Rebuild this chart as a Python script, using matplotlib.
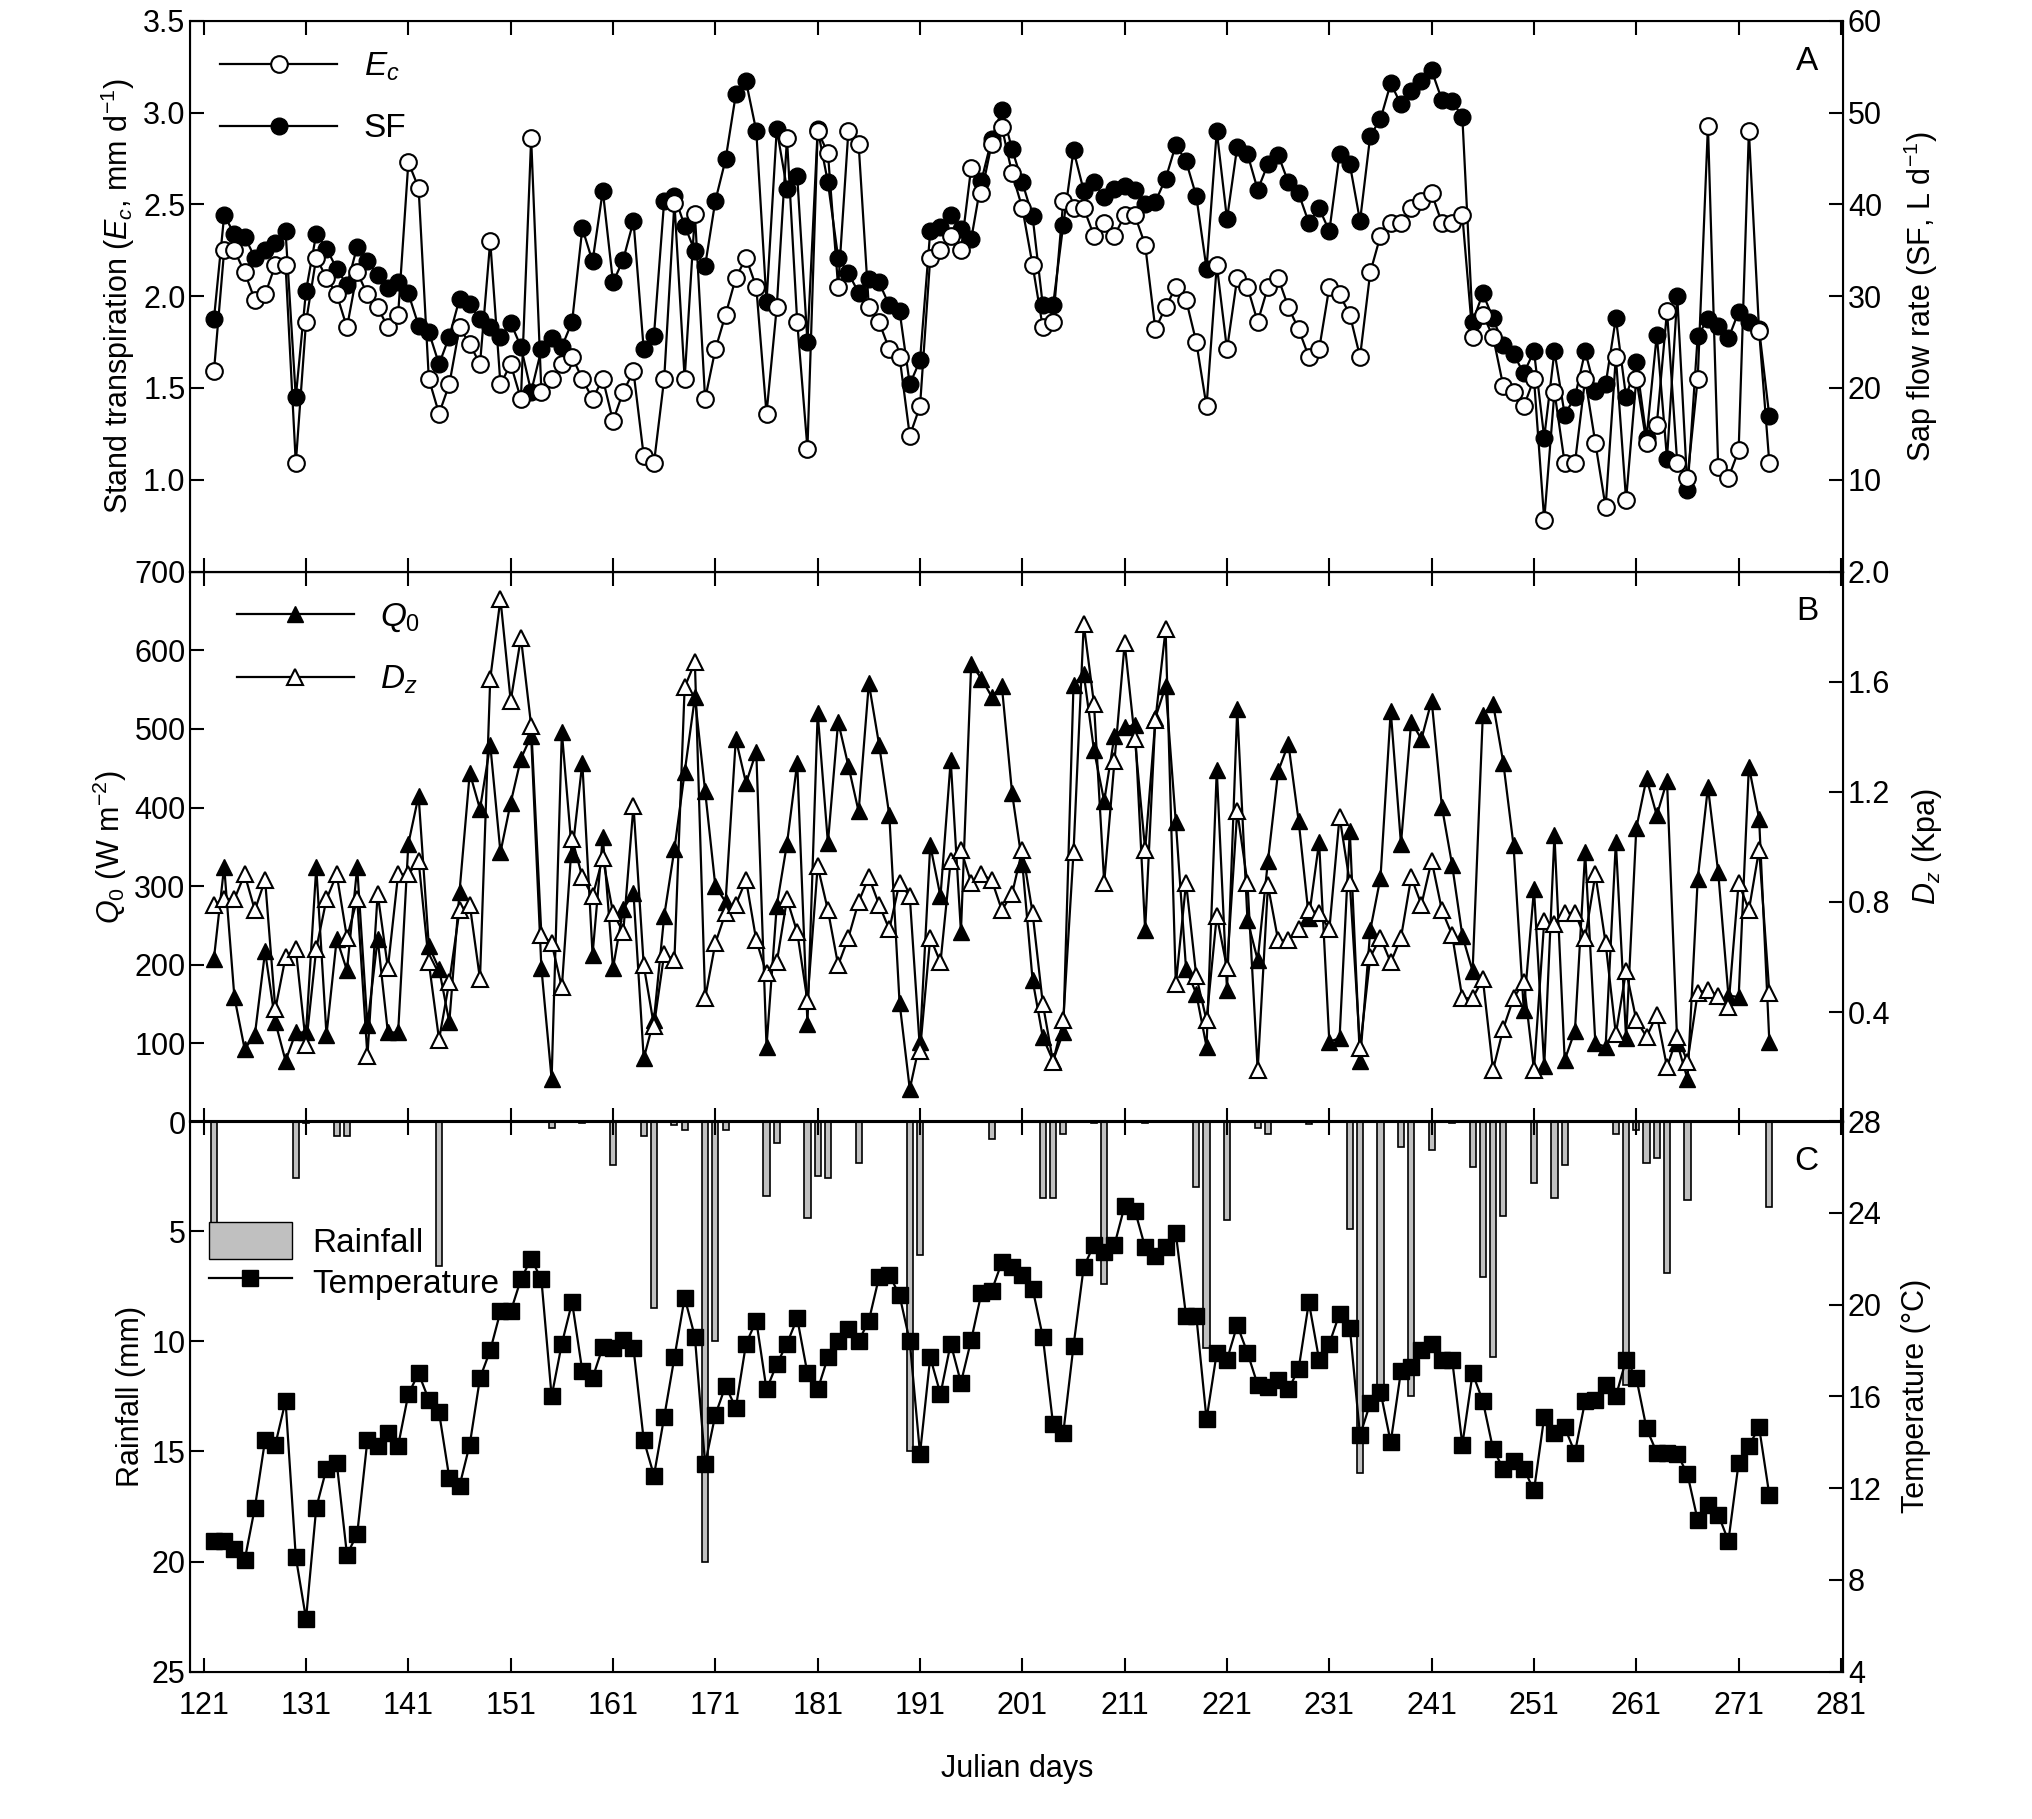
import matplotlib
matplotlib.use('Agg')
import matplotlib.pyplot as plt
import numpy as np
from matplotlib.patches import Patch
from matplotlib.lines import Line2D

plt.rcParams['font.family'] = ['Liberation Sans Narrow', 'Liberation Sans', 'DejaVu Sans']
plt.rcParams['mathtext.fontset'] = 'custom'
plt.rcParams['mathtext.rm'] = 'Liberation Sans'
plt.rcParams['mathtext.it'] = 'Liberation Sans:italic'
plt.rcParams['mathtext.bf'] = 'Liberation Sans:bold'

days = np.arange(122, 275)

# Stand transpiration (mm/d)
ec = [1.59, 2.25, 2.25, 2.13, 1.98, 2.01, 2.17, 2.17, 1.09, 1.86,
      2.21, 2.10, 2.01, 1.83, 2.13, 2.01, 1.94, 1.83, 1.90, 2.73,
      2.59, 1.55, 1.36, 1.52, 1.83, 1.74, 1.63, 2.30, 1.52, 1.63,
      1.44, 2.86, 1.48, 1.55, 1.63, 1.67, 1.55, 1.44, 1.55, 1.32,
      1.48, 1.59, 1.13, 1.09, 1.55, 2.51, 1.55, 2.45, 1.44, 1.71,
      1.90, 2.10, 2.21, 2.05, 1.36, 1.94, 2.86, 1.86, 1.17, 2.90,
      2.78, 2.05, 2.90, 2.83, 1.94, 1.86, 1.71, 1.67, 1.24, 1.40,
      2.21, 2.25, 2.33, 2.25, 2.70, 2.56, 2.83, 2.92, 2.67, 2.48,
      2.17, 1.83, 1.86, 2.52, 2.48, 2.48, 2.33, 2.40, 2.33, 2.44,
      2.44, 2.28, 1.82, 1.94, 2.05, 1.98, 1.75, 1.40, 2.17, 1.71,
      2.10, 2.05, 1.86, 2.05, 2.10, 1.94, 1.82, 1.67, 1.71, 2.05,
      2.01, 1.90, 1.67, 2.13, 2.33, 2.40, 2.40, 2.48, 2.52, 2.56,
      2.40, 2.40, 2.44, 1.78, 1.90, 1.78, 1.51, 1.48, 1.40, 1.55,
      0.78, 1.48, 1.09, 1.09, 1.55, 1.20, 0.85, 1.67, 0.89, 1.55,
      1.20, 1.30, 1.92, 1.09, 1.01, 1.55, 2.93, 1.07, 1.01, 1.16,
      2.90, 1.81, 1.09]

# Sap flow rate (L/d)
sf = [27.5, 38.8, 36.8, 36.5, 34.2, 35.0, 35.8, 37.1, 19.0, 30.6,
      36.8, 35.2, 33.0, 31.2, 35.4, 33.8, 32.3, 30.9, 31.5, 30.3,
      26.8, 26.1, 22.6, 25.6, 29.7, 29.1, 27.5, 26.7, 25.6, 27.1,
      24.5, 19.6, 24.2, 25.4, 24.5, 27.2, 37.4, 33.8, 41.5, 31.5,
      34.0, 38.2, 24.2, 25.7, 40.4, 40.9, 37.7, 34.9, 33.3, 40.4,
      44.9, 52.0, 53.4, 48.0, 29.4, 48.2, 41.7, 43.1, 25.0, 48.2,
      42.4, 34.2, 32.5, 30.4, 31.9, 31.5, 29.0, 28.4, 20.4, 23.0,
      37.1, 37.5, 38.8, 37.3, 36.2, 42.6, 47.1, 50.3, 46.0, 42.4,
      38.7, 29.0, 29.0, 37.8, 45.9, 41.5, 42.4, 40.8, 41.7, 42.0,
      41.6, 40.1, 40.3, 42.8, 46.5, 44.7, 40.9, 33.0, 48.0, 38.4,
      46.3, 45.5, 41.6, 44.4, 45.4, 42.4, 41.2, 38.0, 39.6, 37.1,
      45.5, 44.4, 38.2, 47.5, 49.3, 53.2, 50.9, 52.4, 53.4, 54.6,
      51.4, 51.3, 49.5, 27.2, 30.3, 27.6, 24.7, 23.7, 21.6, 24.0,
      14.6, 24.0, 17.1, 19.0, 24.0, 19.7, 20.4, 27.6, 19.0, 22.8,
      14.6, 25.8, 12.3, 30.0, 8.9, 25.7, 27.5, 26.8, 25.4, 28.3,
      27.2, 26.4, 16.9]

# Solar radiation Q0 (W/m2)
q0 = [208, 325, 159, 93, 111, 217, 127, 78, 114, 114,
      324, 111, 233, 193, 324, 123, 233, 114, 114, 354,
      415, 224, 195, 127, 293, 444, 398, 480, 343, 406,
      462, 491, 196, 55, 496, 341, 457, 213, 363, 196,
      271, 291, 81, 130, 262, 347, 445, 540, 421, 300,
      280, 487, 431, 471, 96, 275, 354, 457, 125, 520,
      355, 509, 453, 395, 558, 480, 390, 152, 42, 102,
      352, 287, 460, 242, 582, 564, 541, 554, 418, 328,
      181, 108, 78, 114, 556, 570, 473, 408, 491, 502,
      505, 244, 514, 554, 381, 195, 163, 96, 448, 168,
      525, 257, 206, 332, 446, 481, 383, 260, 356, 102,
      107, 370, 78, 244, 311, 523, 354, 509, 487, 536,
      401, 327, 237, 192, 518, 532, 457, 352, 143, 296,
      71, 365, 79, 116, 343, 100, 96, 356, 107, 374,
      437, 390, 434, 100, 55, 309, 426, 318, 161, 159,
      452, 386, 102]

# Vapour pressure deficit Dz (kPa)
dz = [0.79, 0.81, 0.81, 0.90, 0.77, 0.88, 0.41, 0.60, 0.63, 0.28,
      0.63, 0.81, 0.90, 0.67, 0.81, 0.24, 0.83, 0.56, 0.90, 0.90,
      0.95, 0.58, 0.30, 0.51, 0.77, 0.79, 0.52, 1.61, 1.90, 1.53,
      1.76, 1.44, 0.68, 0.65, 0.49, 1.03, 0.89, 0.82, 0.96, 0.76,
      0.69, 1.15, 0.57, 0.35, 0.61, 0.59, 1.58, 1.67, 0.45, 0.65,
      0.76, 0.79, 0.88, 0.66, 0.54, 0.58, 0.81, 0.69, 0.44, 0.93,
      0.77, 0.57, 0.67, 0.80, 0.89, 0.79, 0.70, 0.87, 0.82, 0.26,
      0.67, 0.58, 0.95, 0.99, 0.87, 0.90, 0.88, 0.77, 0.83, 0.99,
      0.76, 0.43, 0.22, 0.37, 0.98, 1.81, 1.52, 0.87, 1.31, 1.74,
      1.39, 0.99, 1.46, 1.79, 0.50, 0.87, 0.53, 0.37, 0.75, 0.56,
      1.13, 0.87, 0.19, 0.86, 0.66, 0.66, 0.70, 0.77, 0.76, 0.70,
      1.11, 0.87, 0.27, 0.60, 0.67, 0.58, 0.67, 0.89, 0.79, 0.95,
      0.77, 0.68, 0.45, 0.45, 0.52, 0.19, 0.34, 0.45, 0.51, 0.19,
      0.73, 0.72, 0.76, 0.76, 0.67, 0.90, 0.65, 0.32, 0.55, 0.37,
      0.31, 0.39, 0.20, 0.31, 0.22, 0.47, 0.48, 0.46, 0.42, 0.87,
      0.77, 0.99, 0.47]

# Air temperature (deg C)
temp = [9.7, 9.7, 9.35, 8.85, 11.15, 14.1, 13.9, 15.8, 9.0, 6.3,
        11.15, 12.85, 13.1, 9.1, 10.0, 14.1, 13.85, 14.4, 13.85, 16.1,
        17.0, 15.85, 15.3, 12.45, 12.1, 13.9, 16.8, 18.0, 19.7, 19.7,
        21.1, 22.0, 21.1, 16.0, 18.3, 20.1, 17.1, 16.8, 18.15, 18.1,
        18.45, 18.1, 14.1, 12.55, 15.1, 17.7, 20.3, 18.6, 13.05, 15.2,
        16.45, 15.5, 18.3, 19.3, 16.3, 17.4, 18.3, 19.4, 17.0, 16.3,
        17.7, 18.4, 18.95, 18.4, 19.3, 21.2, 21.3, 20.4, 18.4, 13.5,
        17.7, 16.1, 18.3, 16.6, 18.45, 20.5, 20.6, 21.85, 21.65, 21.3,
        20.7, 18.6, 14.8, 14.4, 18.2, 21.65, 22.6, 22.3, 22.6, 24.3,
        24.1, 22.5, 22.1, 22.5, 23.1, 19.5, 19.5, 15.0, 17.9, 17.6,
        19.1, 17.9, 16.5, 16.4, 16.7, 16.3, 17.2, 20.1, 17.6, 18.3,
        19.6, 19.0, 14.3, 15.7, 16.2, 14.0, 17.1, 17.3, 18.0, 18.3,
        17.6, 17.6, 13.9, 17.0, 15.8, 13.7, 12.85, 13.2, 12.85, 11.9,
        15.1, 14.4, 14.65, 13.55, 15.8, 15.85, 16.5, 16.0, 17.6, 16.8,
        14.6, 13.55, 13.55, 13.5, 12.6, 10.6, 11.25, 10.85, 9.7, 13.1,
        13.85, 14.65, 11.7]

# Rainfall (mm), only rainy days
rain = {122: 5.0, 130: 2.6, 131: 0.1, 134: 0.7, 135: 0.7, 144: 6.6, 155: 0.3,
        158: 0.1, 161: 2.0, 164: 0.7, 165: 8.5, 167: 0.2, 168: 0.4, 170: 20.0,
        171: 10.0, 172: 0.4, 176: 3.4, 177: 1.0, 180: 4.4, 181: 2.5, 182: 2.6,
        185: 1.9, 190: 15.0, 191: 6.1, 198: 0.8, 203: 3.5, 204: 3.5, 205: 0.6,
        208: 0.1, 209: 7.4, 213: 0.1, 218: 3.0, 219: 10.3, 221: 4.5, 224: 0.3,
        225: 0.6, 229: 0.15, 233: 4.9, 234: 16.0, 236: 12.7, 238: 1.2, 239: 12.5,
        241: 1.3, 243: 0.1, 245: 2.1, 246: 7.1, 247: 10.7, 248: 4.3, 251: 2.8,
        253: 3.5, 254: 2.0, 259: 0.6, 260: 12.0, 261: 0.4, 262: 1.9, 263: 1.7,
        264: 6.9, 266: 3.6, 274: 3.9}

fs = 22
fig = plt.figure(figsize=(20.32, 18.19), dpi=100)
L, R = 0.0937, 0.907
tops = [0.9885, 0.6858, 0.3837]
h = 0.3027
axA = fig.add_axes([L, tops[0] - h, R - L, h])
axB = fig.add_axes([L, tops[1] - h, R - L, h], sharex=axA)
axC = fig.add_axes([L, tops[2] - h, R - L, h], sharex=axA)

for ax in (axA, axB, axC):
    ax.set_xlim(119.7, 281.2)
    ax.set_xticks(np.arange(121, 282, 10))
    ax.tick_params(axis='x', direction='in', top=True, length=10, width=1.5, labelsize=fs, pad=14)
    ax.tick_params(axis='y', direction='in', length=10, width=1.5, labelsize=fs)
    for s in ax.spines.values():
        s.set_linewidth(1.5)
axA.tick_params(axis='x', labelbottom=False)
axB.tick_params(axis='x', labelbottom=False)

# Panel A
axA2 = axA.twinx()
axA.plot(days, ec, '-o', color='black', mfc='white', mec='black', ms=12, mew=1.5, lw=1.6, zorder=3)
axA2.plot(days, sf, '-o', color='black', mfc='black', ms=12, lw=1.6, zorder=2)
axA.set_ylim(0.5, 3.5)
axA.set_yticks(np.arange(1.0, 3.51, 0.5))
axA.set_yticklabels(['%.1f' % v for v in np.arange(1.0, 3.51, 0.5)])
axA2.set_ylim(0, 60)
axA2.set_yticks(np.arange(10, 61, 10))
axA2.tick_params(direction='in', length=10, width=1.5, labelsize=fs)
axA.set_ylabel('Stand transpiration ($E_c$, mm d$^{-1}$)', fontsize=fs)
axA2.set_ylabel('Sap flow rate (SF, L d$^{-1}$)', fontsize=fs, labelpad=14)
axA.set_zorder(axA2.get_zorder() + 1)
axA.patch.set_visible(False)
hA = [Line2D([], [], color='black', marker='o', mfc='white', ms=12, mew=1.5, lw=1.6),
      Line2D([], [], color='black', marker='o', mfc='black', ms=12, lw=1.6)]
axA.legend(hA, ['$E_c$', 'SF'], loc='upper left', frameon=False, fontsize=fs + 2,
           handlelength=3.5, labelspacing=0.9, bbox_to_anchor=(0.0, 1.0))
axA.text(0.985, 0.955, 'A', transform=axA.transAxes, ha='right', va='top', fontsize=fs + 2)

# Panel B
axB2 = axB.twinx()
axB.plot(days, q0, '-^', color='black', mfc='black', ms=12, lw=1.6, zorder=2)
axB2.plot(days, dz, '-^', color='black', mfc='white', mec='black', ms=12, mew=1.5, lw=1.6, zorder=3)
axB.set_ylim(0, 700)
axB.set_yticks(np.arange(0, 701, 100))
axB2.set_ylim(0, 2.0)
axB2.set_yticks([0.4, 0.8, 1.2, 1.6, 2.0])
axB2.set_yticklabels(['0.4', '0.8', '1.2', '1.6', '2.0'])
axB2.tick_params(direction='in', length=10, width=1.5, labelsize=fs)
axB.set_ylabel('$Q_0$ (W m$^{-2}$)', fontsize=fs)
axB2.set_ylabel('$D_z$ (Kpa)', fontsize=fs, labelpad=14)
hB = [Line2D([], [], color='black', marker='^', mfc='black', ms=12, lw=1.6),
      Line2D([], [], color='black', marker='^', mfc='white', ms=12, mew=1.5, lw=1.6)]
axB.legend(hB, ['$Q_0$', '$D_z$'], loc='upper left', frameon=False, fontsize=fs + 2,
           handlelength=3.5, labelspacing=0.9, bbox_to_anchor=(0.01, 1.0))
axB.text(0.985, 0.955, 'B', transform=axB.transAxes, ha='right', va='top', fontsize=fs + 2)

# Panel C
axC2 = axC.twinx()
rd = list(rain.keys())
axC.bar(rd, [rain[d] for d in rd], width=0.6, color='#c0c0c0', edgecolor='black', linewidth=1.2, zorder=1)
axC.set_ylim(25, 0)
axC.set_yticks(np.arange(5, 26, 5))
axC2.plot(days, temp, '-s', color='black', mfc='black', ms=11, lw=1.6)
axC2.set_ylim(4, 28)
axC2.set_yticks(np.arange(4, 29, 4))
axC2.tick_params(direction='in', length=10, width=1.5, labelsize=fs)
axC.set_ylabel('Rainfall (mm)', fontsize=fs)
axC2.set_ylabel('Temperature (°C)', fontsize=fs, labelpad=14)
axC.set_xlabel('Julian days', fontsize=fs, labelpad=24)
hC = [Patch(facecolor='#c0c0c0', edgecolor='black'),
      Line2D([], [], color='black', marker='s', mfc='black', ms=11, lw=1.6)]
axC2.legend(hC, ['Rainfall', 'Temperature'], loc='upper left', frameon=False, fontsize=fs + 2,
            handlelength=2.5, handleheight=1.3, labelspacing=0.15, handletextpad=0.6,
            borderaxespad=0.0, bbox_to_anchor=(0.003, 0.84))
axC.text(0.985, 0.955, 'C', transform=axC.transAxes, ha='right', va='top', fontsize=fs + 2)

fig.savefig('out.png', dpi=100)
